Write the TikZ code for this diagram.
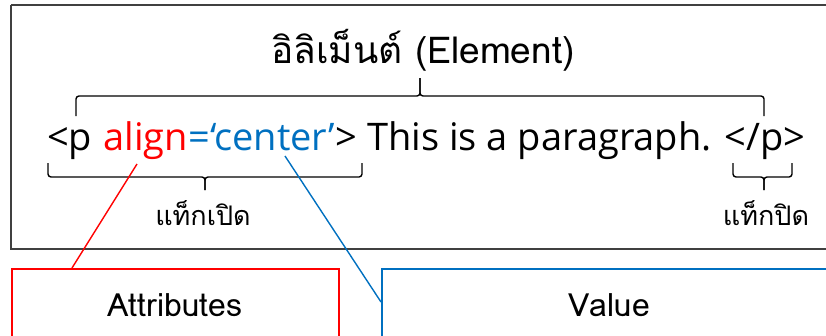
\documentclass[tikz,border=0pt]{standalone}
\usepackage{fontspec}
\setmainfont{Open Sans}
\newfontfamily\thaifont[Script=Thai]{Loma}
\usetikzlibrary{calc}
\definecolor{boxblue}{HTML}{0070C0}
\definecolor{frame}{HTML}{404040}
\tikzset{
  x=1pt, y=-1pt,
  code/.style={inner sep=0pt, anchor=base west, font=\fontsize{38}{38}\selectfont},
  bracepath/.style={draw=black, line width=1.4pt, rounded corners=3pt},
  label/.style={inner sep=0pt, font=\thaifont\fontsize{27}{27}\selectfont},
  titlestyle/.style={inner sep=0pt, font=\thaifont\fontsize{37}{37}\selectfont},
  boxname/.style={inner sep=0pt, font=\thaifont\fontsize{32}{32}\selectfont},
  redline/.style={draw=red, line width=1.4pt},
  blueline/.style={draw=boxblue, line width=1.4pt},
}
\begin{document}
\begin{tikzpicture}
\useasboundingbox (0,0) rectangle (826,335);
% outer frame
\draw[frame, line width=1.6pt] (11,5) -- (11,249) -- (830,249);
\draw[frame, line width=1.6pt] (11,5) -- (830,5);
% title
\node[titlestyle] (title) at (423,50) {อิลิเม็นต์ (Element)};
% code line
\node[code] (lt) at (47,150) {<p};
\node[code, text=red] (al) at ($(lt.base east)+(11,0)$) {align};
\node[code, text=boxblue] (val) at (al.base east) {=‘center’};
\node[code] (rest) at (val.base east) {> This is a paragraph. </p>};
% top brace
\draw[bracepath] (76,116) -- (76,96) -- (420,96) -- (420,78);
\draw[bracepath] (764,116) -- (764,96) -- (420,96) -- (420,78);
% open tag brace
\draw[bracepath] (48,163) -- (48,177) -- (205,177) -- (205,190);
\draw[bracepath] (362,163) -- (362,177) -- (205,177) -- (205,190);
\node[label] (open) at (203,213) {แท็กเปิด};
% close tag brace
\draw[bracepath] (733,163) -- (733,177) -- (764,177) -- (764,190);
\draw[bracepath] (792,163) -- (792,177) -- (764,177) -- (764,190);
\node[label] (close) at (766,213) {แท็กปิด};
% boxes
\node[draw=red, line width=1.8pt, minimum width=327pt, minimum height=80pt, anchor=north west, inner sep=0pt] (attr) at (11,268) {};
\node[boxname] (attrtext) at (175,305) {Attributes};
\node[draw=boxblue, line width=2.4pt, minimum width=460pt, minimum height=80pt, anchor=north west, inner sep=0pt] (valbox) at (381,268) {};
\node[boxname] (valtext) at (609,305) {Value};
% connectors
\coordinate (rs) at (137,164);
\coordinate (bs) at (285,156);
\draw[redline] (rs) -- ($(attr.north west)+(61,0)$);
\draw[blueline] (bs) -- ($(valbox.north west)+(0,34)$);
\end{tikzpicture}
\end{document}
